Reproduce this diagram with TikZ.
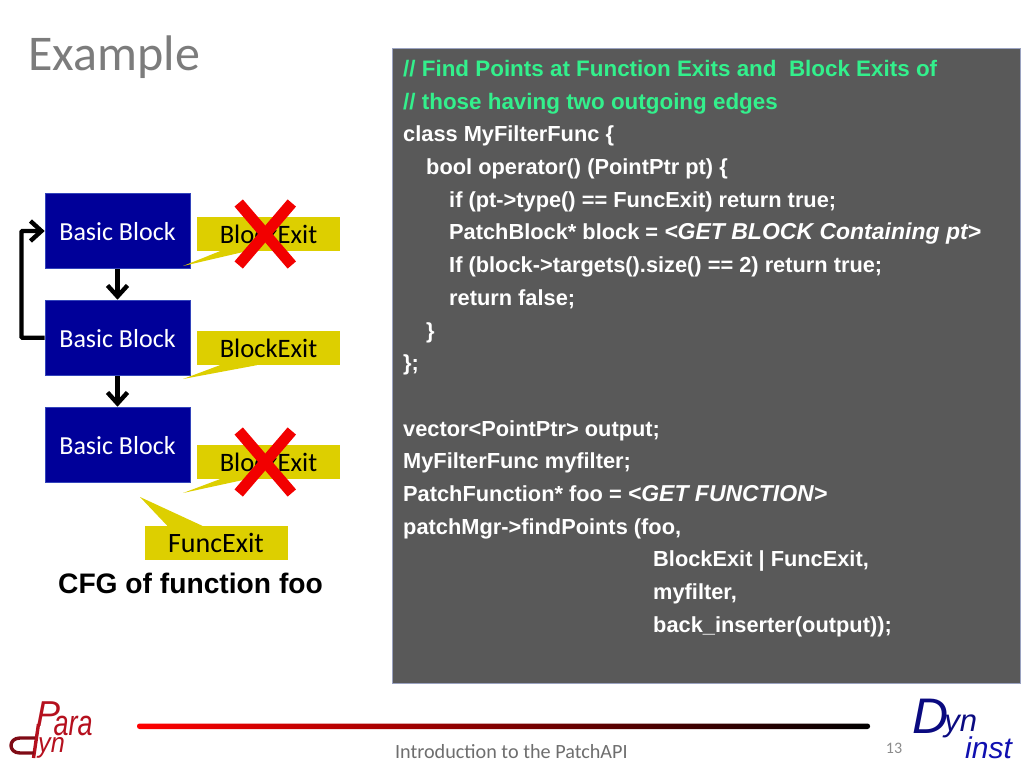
\documentclass[tikz,border=0pt]{standalone}
\usepackage{fontspec}
\setmainfont{Liberation Sans}
\newfontfamily\gillfont{Carlito}
\usepackage{xcolor}
\definecolor{codegreen}{HTML}{33F08C}
\definecolor{codepanel}{HTML}{595959}
\definecolor{panelrim}{HTML}{9AA2C0}
\definecolor{blockblue}{HTML}{000099}
\definecolor{blockrim}{HTML}{3344BB}
\definecolor{exityellow}{HTML}{DDCF00}
\definecolor{slidegray}{HTML}{6E6E6E}
\definecolor{pararedd}{HTML}{B5101E}
\definecolor{dynnavy}{HTML}{0A0A80}
\definecolor{dynblue}{HTML}{1010B0}
\usetikzlibrary{arrows.meta, positioning}
\newcommand{\cgreen}[1]{\textcolor{codegreen}{\fontsize{22.4}{32.7}\selectfont #1}}
\newcommand{\cital}[1]{{\fontsize{23}{32.7}\selectfont\textit{#1}}}

\begin{document}
\begin{tikzpicture}[
	x=1pt, y=-1pt,
	block/.style={rectangle, draw=blockrim, line width=0.6pt, fill=blockblue, text=white, minimum width=145pt,
	              minimum height=75.5pt, inner sep=0pt, text height=19pt, text depth=0pt,
	              font=\gillfont\fontsize{26}{28}\selectfont},
	exit/.style={rectangle, fill=exityellow, minimum width=143pt, minimum height=34pt, inner sep=0pt,
	             text height=19pt, text depth=0pt, font=\gillfont\fontsize{26.6}{28}\selectfont},
	tail/.style={fill=exityellow},
	arr/.style={-{Straight Barb[length=11pt,width=20pt]}, line width=4.4pt, draw=black},
	cross/.style={draw=red!95!black, line width=11pt},
	footer/.style={text=slidegray, font=\gillfont\fontsize{20.2}{24}\selectfont},
	logo/.style={inner sep=0pt, anchor=base west}
	]
\useasboundingbox (0,0) rectangle (1024,768);

\node[text=slidegray!90!white, font=\gillfont\fontsize{50}{56}\selectfont, anchor=west] (title) at (25,57) {Example};

% code panel
\node[rectangle, draw=panelrim, line width=1pt, fill=codepanel, minimum width=627.5pt, minimum height=635pt,
	anchor=north west] (panel) at (392,48) {};
\node[anchor=north west, inner sep=0pt, align=left, text=white, font=\bfseries\fontsize{21.8}{32.7}\selectfont] (code) at (403,60)
	{\cgreen{// Find Points at Function Exits and\ \ Block Exits of}\\
	 \cgreen{// those having two outgoing edges}\\
	 class MyFilterFunc \{\\
	 \hspace*{23pt}bool operator() (PointPtr pt) \{\\
	 \hspace*{46pt}if (pt->type() == FuncExit) return true;\\
	 \hspace*{46pt}PatchBlock* block = \cital{<GET BLOCK Containing pt>}\\
	 \hspace*{46pt}If (block->targets().size() == 2) return true;\\
	 \hspace*{46pt}return false;\\
	 \hspace*{23pt}\}\\
	 \};\\
	 ~\\
	 vector<PointPtr> output;\\
	 MyFilterFunc myfilter;\\
	 PatchFunction* foo = \cital{<GET FUNCTION>}\\
	 patchMgr->findPoints (foo,\\
	 \hspace*{250pt}BlockExit | FuncExit,\\
	 \hspace*{250pt}myfilter,\\
	 \hspace*{250pt}back\_inserter(output));};

% control flow graph
\node[block] (b1) at (117.5,231) {Basic Block};
\node[block] (b2) at (117.5,337.75) {Basic Block};
\node[block] (b3) at (117.5,444.75) {Basic Block};
\coordinate (back) at (21.5,285);
\draw[arr] (b1.south) -- (b2.north);
\draw[arr] (b2.south) -- (b3.north);
\draw[arr, rounded corners=1pt] (b2.west) -| (back) |- (b1.west);

\node[exit] (e1) at (268.5,234) {BlockExit};
\node[exit] (e2) at (268.5,348) {BlockExit};
\node[exit] (e3) at (268.5,462) {BlockExit};
\node[exit, font=\gillfont\fontsize{28}{30}\selectfont] (e4) at (216,543) {FuncExit};
\coordinate (t1) at (183,266);
\coordinate (t2) at (183,379);
\coordinate (t3) at (183,493);
\coordinate (t4) at (140,497);
\fill[tail] ([xshift=23pt]e1.south west) -- (t1) -- ([xshift=50pt]e1.south west) -- cycle;
\fill[tail] ([xshift=23pt]e2.south west) -- (t2) -- ([xshift=60pt]e2.south west) -- cycle;
\fill[tail] ([xshift=23pt]e3.south west) -- (t3) -- ([xshift=50pt]e3.south west) -- cycle;
\fill[tail] ([xshift=23pt]e4.north west) -- (t4) -- ([xshift=58pt]e4.north west) -- cycle;

\foreach \cy in {234,462} {
	\draw[cross] (238.7,\cy-31) -- (291.8,\cy+31);
	\draw[cross] (291.8,\cy-31) -- (238.7,\cy+31);
}

\node[font=\bfseries\fontsize{28.2}{30}\selectfont] (cfg) at (190.5,583) {CFG of function foo};

% footer
\shade[left color=red, middle color=red!80!black, right color=black, rounded corners=2.5pt] (137,723.5) rectangle (870,729);
\node[footer, anchor=west] (foot) at (391.5,752) {Introduction to the PatchAPI};
\node[footer, text=slidegray!80!white, font=\gillfont\fontsize{16}{18}\selectfont] (page) at (894,748) {13};

% logos
\draw[pararedd, line width=3.4pt] (38.5,724) -- (33.5,758);
\draw[pararedd!70!black, line width=3.4pt] (35,738) -- (20,738) .. controls (8,738) and (8,753) .. (20,753) -- (34,753);
\node[logo, text=pararedd, font=\itshape\fontsize{36}{40}\selectfont] (lpara) at (36,726) {P\kern-6.5pt\raisebox{-9pt}{\scalebox{.75}[1]{ara}}};
\node[logo, text=pararedd, font=\itshape\fontsize{28}{30}\selectfont] (lyn) at (38,752.5) {\scalebox{.9}[1]{yn}};
\node[logo, text=dynnavy, font=\itshape\fontsize{50}{54}\selectfont] (ddyn) at (912,733.5) {D\kern-4pt\raisebox{2.5pt}{\fontsize{31}{34}\selectfont yn}};
\node[logo, text=dynblue, font=\itshape\fontsize{30}{32}\selectfont] (dinst) at (965,758) {inst};
\end{tikzpicture}
\end{document}
